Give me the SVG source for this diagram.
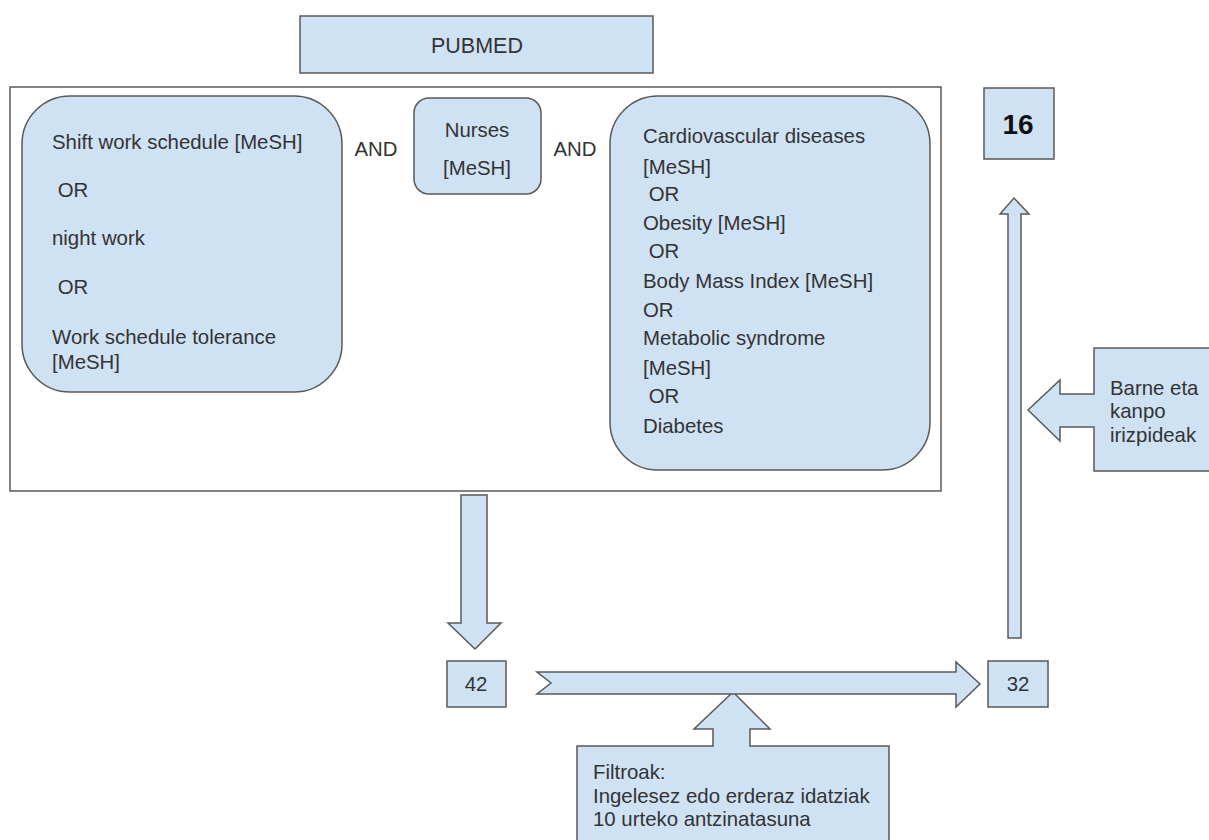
<svg xmlns="http://www.w3.org/2000/svg" width="1209" height="840" viewBox="0 0 1209 840">
<style>
.s{fill:#cfe2f3;stroke:#595959;stroke-width:1.5;stroke-linejoin:miter}
.f{fill:#fff;stroke:#595959;stroke-width:1.5}
text{font-family:"Liberation Sans",Arial,sans-serif;font-size:20.4px;fill:#333}
.c{text-anchor:middle}
</style>
<rect width="1209" height="840" fill="#fff"/>
<g id="pubmed">
<rect class="s" x="300" y="16" width="353" height="57"/>
<text class="c" x="477" y="53" style="font-size:21.5px">PUBMED</text>
</g>
<g id="frame">
<rect class="f" x="10" y="87" width="931" height="404"/>
</g>
<g id="left-box">
<rect class="s" x="22" y="96" width="320" height="296" rx="48" ry="48"/>
<text x="52" y="149">Shift work schedule [MeSH]</text>
<text x="52" y="197" xml:space="preserve"> OR</text>
<text x="52" y="245">night work</text>
<text x="52" y="294" xml:space="preserve"> OR</text>
<text x="52" y="344">Work schedule tolerance</text>
<text x="52" y="369">[MeSH]</text>
</g>
<g id="and1"><text class="c" x="376" y="156">AND</text></g>
<g id="nurses">
<rect class="s" x="414" y="98" width="127" height="96" rx="15" ry="15"/>
<text class="c" x="477" y="137">Nurses</text>
<text class="c" x="477" y="175">[MeSH]</text>
</g>
<g id="and2"><text class="c" x="575" y="156">AND</text></g>
<g id="right-box">
<rect class="s" x="610" y="96" width="320" height="374" rx="48" ry="48"/>
<text x="643" y="143">Cardiovascular diseases</text>
<text x="643" y="174">[MeSH]</text>
<text x="643" y="201" xml:space="preserve"> OR</text>
<text x="643" y="230">Obesity [MeSH]</text>
<text x="643" y="258" xml:space="preserve"> OR</text>
<text x="643" y="288">Body Mass Index [MeSH]</text>
<text x="643" y="317">OR</text>
<text x="643" y="345">Metabolic syndrome</text>
<text x="643" y="375">[MeSH]</text>
<text x="643" y="403" xml:space="preserve"> OR</text>
<text x="643" y="433">Diabetes</text>
</g>
<g id="n16">
<rect class="s" x="984" y="88" width="70" height="71"/>
<text class="c" x="1018" y="134" style="font-size:28px;font-weight:bold;fill:#111">16</text>
</g>
<g id="n42">
<rect class="s" x="447" y="661" width="59" height="46"/>
<text class="c" x="476" y="691">42</text>
</g>
<g id="n32">
<rect class="s" x="988" y="661" width="60" height="46"/>
<text class="c" x="1018" y="691">32</text>
</g>
<g id="barne">
<polygon class="s" points="1094,348 1215,348 1215,471 1094,471 1094,427 1060,427 1060,441 1028,410 1060,380 1060,394 1094,394"/>
<text x="1110" y="395">Barne eta</text>
<text x="1110" y="418">kanpo</text>
<text x="1110" y="442">irizpideak</text>
</g>
<g id="filtroak">
<polygon class="s" points="577,746 713,746 713,729 694,729 733,692 770,729 750,729 750,746 889,746 889,850 577,850"/>
<text x="593" y="779">Filtroak:</text>
<text x="593" y="803">Ingelesez edo erderaz idatziak</text>
<text x="593" y="826">10 urteko antzinatasuna</text>
</g>
<g id="connectors">
<polygon class="s" points="461,495 487,495 487,623 501,623 475,649 448,623 461,623"/>
<polygon class="s" points="537,672 956,672 956,662 980,684 956,707 956,694 537,694 551,683"/>
<polygon class="s" points="1008,638 1008,214 1000,214 1014,198 1029,214 1021,214 1021,638"/>
</g>
</svg>
